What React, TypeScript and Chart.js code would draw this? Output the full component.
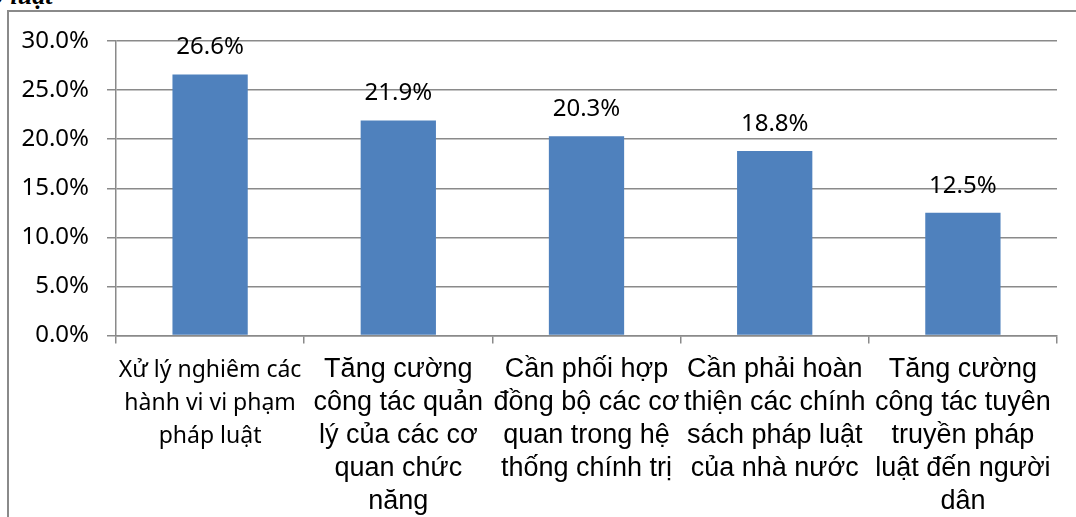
import React, { useEffect, useRef } from "react";
import { Chart, registerables } from "chart.js";

Chart.register(...registerables);

const categories: string[][] = [
  ["Xử lý nghiêm các", "hành vi vi phạm", "pháp luật"],
  ["Tăng cường", "công tác quản", "lý của các cơ", "quan chức", "năng"],
  ["Cần phối hợp", "đồng bộ các cơ", "quan trong hệ", "thống chính trị"],
  ["Cần phải hoàn", "thiện các chính", "sách pháp luật", "của nhà nước"],
  ["Tăng cường", "công tác tuyên", "truyền pháp", "luật đến người", "dân"],
];
const values: number[] = [26.6, 21.9, 20.3, 18.8, 12.5];
const yTicks: number[] = [0, 5, 10, 15, 20, 25, 30];

const GRID = "#8a8a8a";

const dataLabels = {
  id: "dataLabels",
  afterDatasetsDraw(chart: any) {
    const ctx = chart.ctx;
    const meta = chart.getDatasetMeta(0);
    ctx.save();
    ctx.font = "24px 'Noto Sans'";
    ctx.fillStyle = "#000";
    ctx.textAlign = "center";
    ctx.textBaseline = "middle";
    meta.data.forEach((bar: any, i: number) => {
      ctx.fillText(values[i].toFixed(1) + "%", bar.x, bar.y - 27);
    });
    ctx.restore();
  },
};

export default function App() {
  const ref = useRef<HTMLCanvasElement | null>(null);
  useEffect(() => {
    if (!ref.current) return;
    const chart = new Chart(ref.current, {
      type: "bar",
      data: {
        labels: categories,
        datasets: [
          {
            data: values,
            backgroundColor: "#4F81BD",
            barPercentage: 0.4,
            categoryPercentage: 1,
          },
        ],
      },
      options: {
        animation: false,
        responsive: false,
        layout: { padding: { top: 41, right: 19, left: 0, bottom: 0 } },
        plugins: { legend: { display: false }, tooltip: { enabled: false } },
        scales: {
          x: {
            grid: {
              display: true,
              drawOnChartArea: false,
              drawTicks: true,
              tickLength: 8,
              color: GRID,
              lineWidth: 1.5,
              offset: true,
            },
            border: { display: true, color: GRID, width: 1.5 },
            ticks: {
              autoSkip: false,
              maxRotation: 0,
              minRotation: 0,
              color: "#000",
              padding: 10,
              font: (c: any) =>
                c.index === 0
                  ? { family: "'Noto Sans'", size: 23, lineHeight: "33px" }
                  : { family: "'Liberation Sans'", size: 27, lineHeight: "33px" },
            },
            afterFit: (s: any) => {
              s.height = 517 - 335.5;
            },
          },
          y: {
            min: 0,
            max: 30,
            afterBuildTicks: (s: any) => {
              s.ticks = yTicks.map((v) => ({ value: v }));
            },
            grid: {
              color: GRID,
              lineWidth: 1.5,
              drawTicks: true,
              tickLength: 9,
            },
            border: { display: true, color: GRID, width: 1.5 },
            ticks: {
              color: "#000",
              padding: 18,
              font: { family: "'Noto Sans'", size: 24 },
              callback: (v: any) => Number(v).toFixed(1) + "%",
            },
            afterFit: (s: any) => {
              s.width = 116;
            },
          },
        },
      },
      plugins: [dataLabels],
    });
    return () => chart.destroy();
  }, []);

  return (
    <div
      style={{
        position: "fixed",
        left: 0,
        top: 0,
        width: 1076,
        height: 517,
        overflow: "hidden",
        background: "#fff",
      }}
    >
      <div
        style={{
          position: "absolute",
          left: -10,
          top: -19,
          font: "bold italic 26px 'Liberation Serif'",
          color: "#000",
          whiteSpace: "nowrap",
        }}
      >
        ở luật
      </div>
      <div
        style={{
          position: "absolute",
          left: 7,
          top: 10,
          width: 2000,
          height: 2000,
          borderLeft: "2px solid #8a8a8a",
          borderTop: "2px solid #8a8a8a",
        }}
      />
      <canvas
        ref={ref}
        width={1076}
        height={517}
        style={{ position: "absolute", left: 0, top: 0 }}
      />
    </div>
  );
}
